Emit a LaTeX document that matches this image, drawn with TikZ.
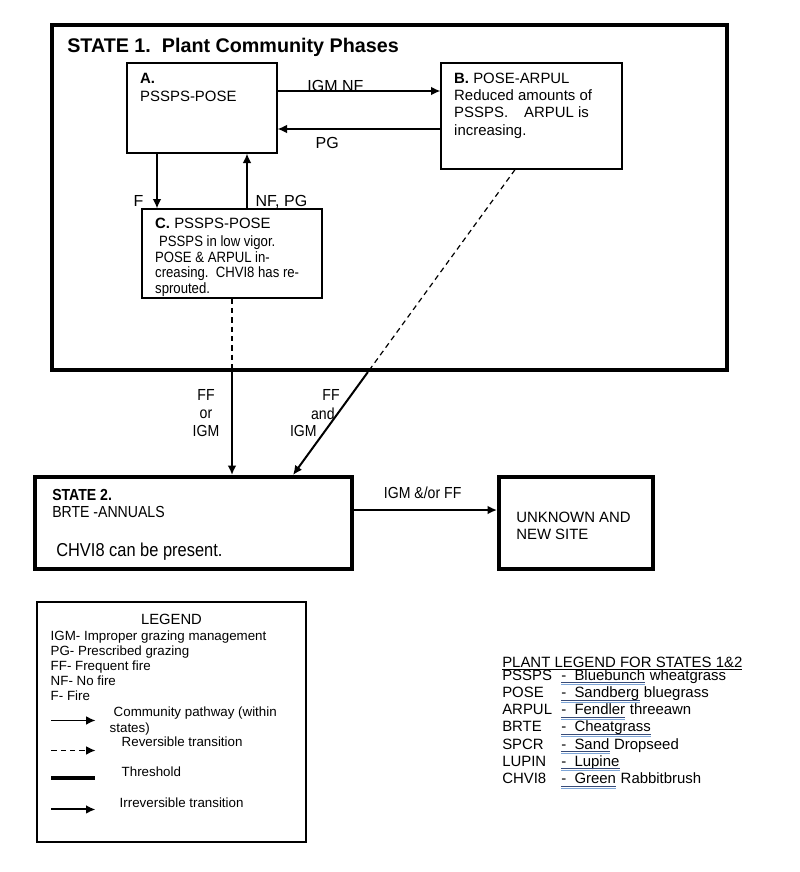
\documentclass[tikz,border=0pt]{standalone}
\usepackage{fontspec}
\setmainfont{Liberation Sans}
\newfontfamily\narrowfont[FakeStretch=0.88]{Liberation Sans}
\usetikzlibrary{arrows.meta}
\usetikzlibrary{calc}
\usetikzlibrary{fit}
\definecolor{ulDark}{RGB}{55,75,120}
\definecolor{ulLight}{RGB}{125,165,215}

\begin{document}
\begin{tikzpicture}[x=0.75pt, y=-0.75pt, >={Latex[length=7pt,width=6.5pt]},
    statebox/.style={draw, line width=3pt, inner sep=0pt},
    phasebox/.style={draw, line width=1pt, inner sep=0pt},
    txt/.style={inner sep=0pt, align=left, font=\fontsize{11.2}{13}\selectfont},
    lbl/.style={inner sep=0pt, font=\fontsize{12}{13.5}\selectfont},
    lblnarrow/.style={inner sep=0pt, align=center, font=\narrowfont\fontsize{12}{13.5}\selectfont},
    legtxt/.style={inner sep=0pt, align=left, font=\fontsize{10}{12}\selectfont},
    plant/.style={inner sep=0pt, font=\fontsize{11.2}{13}\selectfont},
    pathway/.style={->, line width=1pt},
    reversible/.style={line width=0.9pt, dash pattern=on 4pt off 3pt},
    irreversible/.style={->, line width=1.5pt},
    threshold/.style={line width=3pt}]
            \useasboundingbox (0,0) rectangle (800,872);

            % state 1 and its phases
            \node[statebox, fit={(52,25) (727,370)}] (S1) {};
            \node[anchor=base west, inner sep=0pt, font=\bfseries\fontsize{14.8}{17}\selectfont] (title) at ($(S1.north west)+(17,29.5)$) {STATE 1.\ \ Plant Community Phases};
            \node[phasebox, fit={(127,63) (277,153)}] (A) {};
            \node[phasebox, fit={(441,63) (622,169)}] (B) {};
            \node[phasebox, fit={(142,209) (322,298)}] (C) {};
            \node[txt, anchor=north west, font=\fontsize{11.2}{13.5}\selectfont] (Atxt) at ($(A.north west)+(13.6,10.3)$) {\textbf{A.}\\PSSPS-POSE};
            \node[txt, anchor=north west] (Btxt) at ($(B.north west)+(13.6,10.3)$) {\textbf{B.} POSE-ARPUL\\Reduced amounts of\\PSSPS.\hspace{12pt}ARPUL is\\increasing.};
            \node[txt, anchor=north west] (Ctitle) at ($(C.north west)+(13.6,9.3)$) {\textbf{C.} PSSPS-POSE};
            \node[txt, anchor=north west, font=\narrowfont\fontsize{11.2}{11.6}\selectfont] (Ctxt) at ($(C.north west)+(13.6,27.3)$) {\hspace*{3pt}PSSPS in low vigor.\\POSE \& ARPUL in-\\creasing.\ \ CHVI8 has re-\\sprouted.};

            % state 2 and the unknown site
            \node[statebox, fit={(35,477) (352,569)}] (S2) {};
            \node[statebox, fit={(499,477) (653,569)}] (U) {};
            \node[txt, anchor=north west, font=\narrowfont\fontsize{12}{12.75}\selectfont] (S2txt) at ($(S2.north west)+(19,14.3)$) {\textbf{STATE 2.}\\BRTE -ANNUALS};
            \node[txt, anchor=base west, font=\narrowfont\fontsize{14}{16}\selectfont] (S2note) at ($(S2.north west)+(23,81.7)$) {CHVI8 can be present.};
            \node[txt, anchor=west, font=\fontsize{11.2}{12.75}\selectfont] (Utxt) at ($(U.west)+(19,2.5)$) {UNKNOWN AND\\NEW SITE};

            % pathways inside state 1
            \coordinate (ab) at ($(A.east)+(0,-17)$);
            \coordinate (ba) at ($(B.west)+(0,13)$);
            \coordinate (ac) at ($(A.south)+(-45,0)$);
            \coordinate (ca) at ($(C.north)+(15,0)$);
            \draw[pathway] (ab) -- (ab -| B.west) node[lbl, pos=0.355, anchor=base] {IGM NF};
            \draw[pathway] (ba) -- (ba -| A.east) node[lbl, pos=0.695, below=6pt] {PG};
            \draw[pathway] (ac) -- (ac |- C.north) node[lbl, pos=0.87, left=9.75pt] {F};
            \draw[pathway] (ca) -- (ca |- A.south) node[lbl, pos=0.125, right=6pt] {NF, PG};

            % transitions out of state 1
            \coordinate (c1) at (C.south |- S1.south);
            \coordinate (b0) at ($(B.south)+(-16.5,0)$);
            \coordinate (s2in) at ($(S2.north west)+(260,0)$);
            \coordinate (b1) at (intersection of b0--s2in and S1.south west--S1.south east);
            \draw[reversible] (C.south) -- (c1);
            \draw[irreversible] (c1) -- (C.south |- S2.north);
            \draw[reversible] (b0) -- (b1);
            \draw[irreversible] (b1) -- (s2in);
            \node[lblnarrow, anchor=north] (ffor) at ($(c1)+(-26,17.3)$) {FF\\or\\IGM};
            \node[lblnarrow, anchor=east] (ffand1) at ($(b1)+(-28,23)$) {FF};
            \node[lblnarrow, anchor=east] (ffand2) at ($(b1)+(-33,42)$) {and};
            \node[lblnarrow, anchor=east] (ffand3) at ($(b1)+(-51,59)$) {IGM};
            \coordinate (su) at ($(S2.east)+(0,-13)$);
            \draw[irreversible] (su) -- (su -| U.west) node[lblnarrow, pos=0.48, above=7.5pt] {IGM \&/or FF};

            % legend
            \node[phasebox, line width=0.8pt, fit={(37,602) (306,842)}] (L) {};
            \node[anchor=north, inner sep=0pt, font=\fontsize{11.1}{13}\selectfont] (legtitle) at ($(L.north)+(0,12)$) {LEGEND};
            \node[legtxt, anchor=north west, font=\fontsize{10}{11.25}\selectfont] (legdefs) at ($(L.north west)+(14,29)$) {IGM- Improper grazing management\\PG- Prescribed grazing\\FF- Frequent fire\\NF- No fire\\F- Fire};
            \coordinate (k1) at ($(L.north west)+(15,119)$);
            \coordinate (k2) at ($(L.north west)+(15,149)$);
            \coordinate (k3) at ($(L.north west)+(15,177)$);
            \coordinate (k4) at ($(L.north west)+(15,208)$);
            \draw[pathway] (k1) -- ++(44,0);
            \draw[reversible, ->] (k2) -- ++(44,0);
            \draw[threshold] (k3) -- ++(44,0);
            \draw[irreversible] (k4) -- ++(44,0);
            \node[legtxt, anchor=north west] (key1) at ($(L.north west)+(73,105)$) {\hspace*{3pt}Community pathway (within\\states)};
            \node[legtxt, anchor=west] (key2) at ($(L.north west)+(85,140)$) {Reversible transition};
            \node[legtxt, anchor=west] (key3) at ($(L.north west)+(85,170)$) {Threshold};
            \node[legtxt, anchor=west] (key4) at ($(L.north west)+(83,201)$) {Irreversible transition};

            % plant legend
            \node[plant, anchor=base west] (plantleg) at (502,667) {\underline{PLANT LEGEND FOR STATES 1\&2}};
            \foreach \code/\ulword/\rest [count=\i] in {PSSPS/Bluebunch/wheatgrass, POSE/Sandberg/bluegrass, ARPUL/Fendler/threeawn, BRTE/Cheatgrass/{}, SPCR/Sand/Dropseed, LUPIN/Lupine/{}, CHVI8/Green/Rabbitbrush}
            {
                \node[plant, anchor=base west] (code\i) at (502, {663+17.2*\i}) {\code};
                \node[plant, anchor=base west] (ul\i) at (561, {663+17.2*\i}) {-\ \ \ulword};
                \node[plant, anchor=base west] (rest\i) at (ul\i.base east) {\ \rest};
                \draw[ulDark, line width=0.6pt] ($(ul\i.base west)+(0,2.5)$) -- ($(ul\i.base east)+(0,2.5)$);
                \draw[ulLight, line width=0.6pt] ($(ul\i.base west)+(0,4.5)$) -- ($(ul\i.base east)+(0,4.5)$);
            }

        \end{tikzpicture}
\end{document}
